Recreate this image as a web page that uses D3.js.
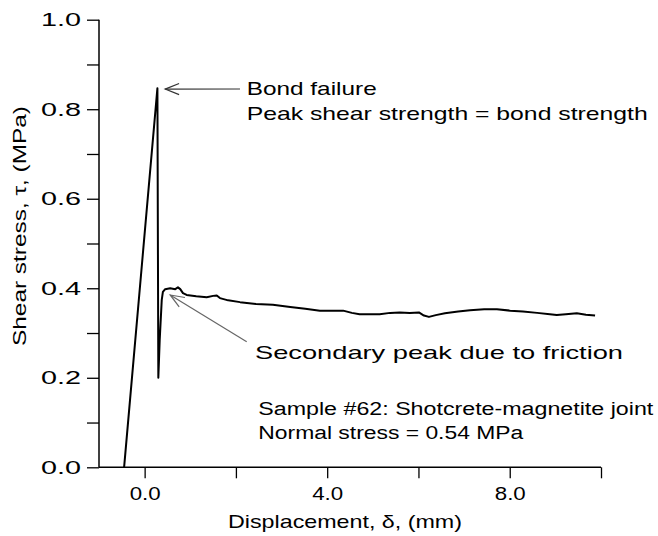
<!DOCTYPE html>
<html><head><meta charset="utf-8">
<script src="https://cdn.jsdelivr.net/npm/d3@7"></script>
<style>
body{margin:0;background:#fff;}
text{font-family:"Liberation Sans",Arial,Helvetica,sans-serif;fill:#000;}
</style></head>
<body>
<svg id="chart" width="658" height="536"></svg>
<script>
// Data (displacement mm, shear stress MPa)
const displacement = [-0.45,0.28,0.30,0.33,0.375,0.40,0.45,0.56,0.67,0.73,0.78,0.84,0.92,1.13,1.36,1.50,1.58,1.65,1.83,2.09,2.44,2.81,3.19,3.52,3.84,4.13,4.35,4.54,4.71,4.94,5.15,5.38,5.59,5.81,6.01,6.12,6.23,6.38,6.58,6.87,7.13,7.44,7.72,8.01,8.29,8.60,8.88,9.03,9.23,9.47,9.67,9.87];
const shearStress = [0,0.847,0.20,0.284,0.374,0.392,0.398,0.40,0.398,0.402,0.398,0.389,0.385,0.382,0.38,0.383,0.384,0.378,0.373,0.369,0.365,0.363,0.358,0.354,0.350,0.350,0.350,0.345,0.342,0.342,0.342,0.345,0.346,0.345,0.346,0.339,0.336,0.340,0.344,0.348,0.351,0.353,0.353,0.350,0.348,0.345,0.342,0.340,0.342,0.344,0.341,0.339];
const xMajorTicks = [0,4,8];
const xAllTicks = [0,2,4,6,8,10];
const yMajorTicks = [0,0.2,0.4,0.6,0.8,1.0];
const yAllTicks = [0,0.1,0.2,0.3,0.4,0.5,0.6,0.7,0.8,0.9,1.0];
const xTitle = "Displacement, δ, (mm)";
const yTitle = "Shear stress, τ, (MPa)";
const annBond = ["Bond failure","Peak shear strength = bond strength"];
const annSecondary = "Secondary peak due to friction";
const annSample = ["Sample #62: Shotcrete-magnetite joint","Normal stress = 0.54 MPa"];

const svg = d3.select("#chart");
const x = d3.scaleLinear().domain([-1,10]).range([99,601]);
const y = d3.scaleLinear().domain([0,1]).range([467.3,19.7]);

// axes
const xAxis = svg.append("g").attr("transform",`translate(0,${y(0)})`)
  .call(d3.axisBottom(x).tickValues(xAllTicks).tickSize(11).tickPadding(8)
    .tickFormat(d=>xMajorTicks.includes(d)?d3.format(".1f")(d):""));
const yAxis = svg.append("g").attr("transform",`translate(${x(-1)},0)`)
  .call(d3.axisLeft(y).tickValues(yAllTicks).tickSize(12).tickPadding(6)
    .tickFormat(d=>yMajorTicks.some(v=>Math.abs(v-d)<1e-9)?d3.format(".1f")(d):""));
[xAxis,yAxis].forEach(g=>{
  g.select(".domain").attr("stroke","#000").attr("stroke-width",1.5);
  g.selectAll(".tick line").attr("stroke","#000").attr("stroke-width",1.3);
  g.selectAll(".tick text").attr("font-size",19).attr("fill","#000")
    .attr("font-family",'"Liberation Sans",Arial,sans-serif');
});
xAxis.select(".domain").attr("d",`M${x(-1)},0H${x(10)}`);
yAxis.select(".domain").attr("d",`M0,${y(1)}V${y(0)}`);
xAxis.selectAll(".tick text").filter(function(){return this.textContent!=="";})
  .attr("textLength",31).attr("lengthAdjust","spacingAndGlyphs");
yAxis.selectAll(".tick text").filter(function(){return this.textContent!=="";})
  .attr("textLength",40).attr("lengthAdjust","spacingAndGlyphs");

// titles
svg.append("text").attr("x",345).attr("y",528).attr("text-anchor","middle")
  .attr("font-size",19).attr("textLength",234).attr("lengthAdjust","spacingAndGlyphs").text(xTitle);
svg.append("text").attr("transform","translate(26,226) rotate(-90)").attr("text-anchor","middle")
  .attr("font-size",18).attr("textLength",240).attr("lengthAdjust","spacingAndGlyphs").text(yTitle);

// curve
const pts = displacement.map((d,i)=>[d,shearStress[i]]);
svg.append("path").datum(pts)
  .attr("d",d3.line().x(d=>x(d[0])).y(d=>y(d[1])))
  .attr("fill","none").attr("stroke","#000").attr("stroke-width",2).attr("stroke-linejoin","round");

// annotations
function arrow(x1,y1,x2,y2,color){
  svg.append("line").attr("x1",x1).attr("y1",y1).attr("x2",x2).attr("y2",y2)
    .attr("stroke",color).attr("stroke-width",1.2);
  const a = Math.atan2(y1-y2,x1-x2), L=15, w=0.38;
  const p1=[x2+L*Math.cos(a+w),y2+L*Math.sin(a+w)], p2=[x2+L*Math.cos(a-w),y2+L*Math.sin(a-w)];
  svg.append("path").attr("d",`M${p1}L${x2},${y2}L${p2}`).attr("fill","none")
    .attr("stroke",color).attr("stroke-width",1.2);
}
arrow(240,89,x(0.45),y(0.845),"#333");
svg.append("text").attr("x",246.7).attr("y",95).attr("font-size",19)
  .attr("textLength",130).attr("lengthAdjust","spacingAndGlyphs").text(annBond[0]);
svg.append("text").attr("x",246.7).attr("y",120).attr("font-size",19)
  .attr("textLength",401).attr("lengthAdjust","spacingAndGlyphs").text(annBond[1]);

arrow(246.7,341.7,x(0.56),y(0.385),"#666");
svg.append("text").attr("x",255).attr("y",359).attr("font-size",19)
  .attr("textLength",368).attr("lengthAdjust","spacingAndGlyphs").text(annSecondary);

svg.append("text").attr("x",258.3).attr("y",415).attr("font-size",18)
  .attr("textLength",395).attr("lengthAdjust","spacingAndGlyphs").text(annSample[0]);
svg.append("text").attr("x",258.3).attr("y",439).attr("font-size",18)
  .attr("textLength",265).attr("lengthAdjust","spacingAndGlyphs").text(annSample[1]);
</script>
</body></html>
